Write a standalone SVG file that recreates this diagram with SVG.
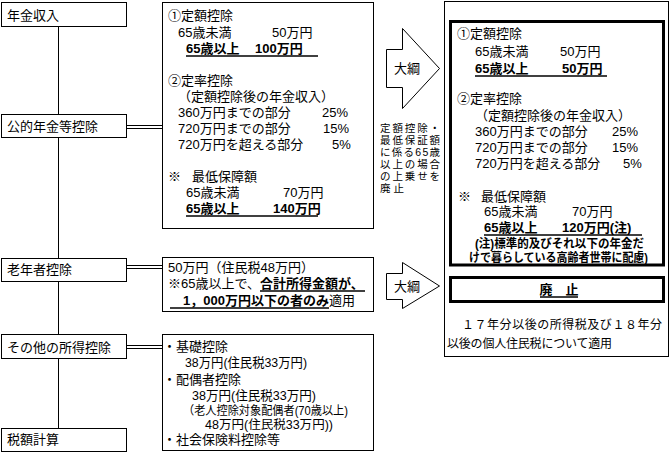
<svg xmlns="http://www.w3.org/2000/svg" width="671" height="452" viewBox="0 0 671 452">
<style>
text{font-family:"Liberation Sans","Noto Sans CJK JP","Noto Sans CJK SC",sans-serif;font-size:13px;fill:#000}
.s12{font-size:12px}
.s11{font-size:10.5px}
.b{font-weight:bold}
.box{fill:#fff;stroke:#000;stroke-width:1}
.thick{fill:#fff;stroke:#000;stroke-width:3}
.ln{stroke:#000;stroke-width:1;fill:none}
.ul{stroke:#000;stroke-width:1.5}
</style>
<rect width="671" height="452" fill="#fff"/>
<g id="connectors">
<line class="ln" x1="58.5" y1="26" x2="58.5" y2="428"/>
<path class="ln" d="M127 125.5H162M127 128.5H162"/>
<path class="ln" d="M127 265.5H162M127 268.5H162"/>
<path class="ln" d="M127 345.5H162M127 348.5H162"/>
</g>
<g id="n-nenkin"><rect class="box" x="1.5" y="2.5" width="125" height="24"/><text x="7" y="20">年金収入</text></g>
<g id="n-koteki"><rect class="box" x="1.5" y="114.5" width="125" height="23"/><text x="7" y="130.5">公的年金等控除</text></g>
<g id="n-ronen"><rect class="box" x="1.5" y="258.5" width="125" height="23"/><text x="7" y="274">老年者控除</text></g>
<g id="n-sonota"><rect class="box" x="1.5" y="334.5" width="125" height="24"/><text x="7" y="351.5">その他の所得控除</text></g>
<g id="n-zeigaku"><rect class="box" x="1.5" y="428.5" width="125" height="23"/><text x="7" y="444">税額計算</text></g>
<g id="n-koteki-detail">
<rect class="box" x="162.5" y="2.5" width="211" height="226"/>
<text x="168" y="20">①定額控除</text>
<text x="178" y="37">65歳未満</text><text x="272" y="37">50万円</text>
<text class="b" x="186" y="53">65歳以上</text><text class="b" x="255" y="53">100万円</text>
<line class="ul" x1="186" y1="56" x2="318" y2="56"/>
<text x="168" y="85">②定率控除</text>
<text x="178" y="101">（定額控除後の年金収入）</text>
<text x="178" y="117">360万円までの部分</text><text x="322" y="117">25%</text>
<text x="178" y="133">720万円までの部分</text><text x="323" y="133">15%</text>
<text x="178" y="149">720万円を超える部分</text><text x="332" y="149">5%</text>
<text x="168" y="181">※</text><text x="192" y="181">最低保障額</text>
<text x="186" y="197">65歳未満</text><text x="283" y="197">70万円</text>
<text class="b" x="186" y="213">65歳以上</text><text class="b" x="273" y="213">140万円</text>
<line class="ul" x1="186" y1="216" x2="318" y2="216"/>
</g>
<g id="n-ronen-detail">
<rect class="box" x="162.5" y="257.5" width="211" height="54"/>
<text x="168" y="272">50万円（住民税48万円）</text>
<text x="168" y="288">※65歳以上で、<tspan class="b">合計所得金額が、</tspan></text>
<line class="ul" x1="260" y1="291" x2="365" y2="291"/>
<text x="183" y="305"><tspan class="b">1，000万円以下の者のみ</tspan>適用</text>
<line class="ul" x1="170" y1="308" x2="329" y2="308"/>
</g>
<g id="n-sonota-detail">
<rect class="box" x="162.5" y="334.5" width="211" height="116"/>
<text x="163" y="351">・基礎控除</text>
<text x="185" y="367" textLength="122" lengthAdjust="spacingAndGlyphs">38万円(住民税33万円)</text>
<text x="163" y="384">・配偶者控除</text>
<text x="192" y="400" textLength="124" lengthAdjust="spacingAndGlyphs">38万円(住民税33万円)</text>
<text class="s12" x="183" y="415" textLength="165" lengthAdjust="spacingAndGlyphs">（老人控除対象配偶者(70歳以上)</text>
<text class="s12" x="205" y="429" textLength="128" lengthAdjust="spacingAndGlyphs">48万円(住民税33万円))</text>
<text x="163" y="444">・社会保険料控除等</text>
</g>
<g id="arrow1">
<polygon class="box" points="386.5,49.5 402.5,49.5 402.5,28.5 439.5,68.5 402.5,108.5 402.5,87.5 386.5,87.5"/>
<text x="407" y="73" text-anchor="middle">大綱</text>
</g>
<g id="note-taiko">
<text class="s11" x="380" y="132" textLength="60">定額控除・</text>
<text class="s11" x="380" y="144" textLength="60">最低保証額</text>
<text class="s11" x="380" y="156" textLength="60">に係る65歳</text>
<text class="s11" x="380" y="168" textLength="60">以上の場合</text>
<text class="s11" x="380" y="180" textLength="60">の上乗せを</text>
<text class="s11" x="380" y="192" textLength="24">廃止</text>
</g>
<g id="arrow2">
<polygon class="box" points="386.5,273.5 402.5,273.5 402.5,262.5 439.5,286 402.5,308.5 402.5,299.5 386.5,299.5"/>
<text x="407" y="291" text-anchor="middle">大綱</text>
</g>
<g id="n-reform">
<rect class="box" x="444.5" y="1.5" width="224" height="355"/>
<rect class="thick" x="450.5" y="21.5" width="213" height="243.5"/>
<text x="457" y="38">①定額控除</text>
<text x="475" y="56">65歳未満</text><text x="560" y="56">50万円</text>
<text class="b" x="475" y="73">65歳以上</text><text class="b" x="562" y="73">50万円</text>
<line class="ul" x1="475" y1="76" x2="607" y2="76"/>
<text x="457" y="103">②定率控除</text>
<text x="475" y="120">（定額控除後の年金収入）</text>
<text x="475" y="136">360万円までの部分</text><text x="612" y="136">25%</text>
<text x="475" y="152">720万円までの部分</text><text x="612" y="152">15%</text>
<text x="475" y="168">720万円を超える部分</text><text x="623" y="168">5%</text>
<text x="458" y="201">※</text><text x="481" y="201">最低保障額</text>
<text x="484" y="216">65歳未満</text><text x="572" y="216">70万円</text>
<text class="b" x="484" y="232">65歳以上</text><text class="b" x="562" y="232">120万円(注)</text>
<line class="ul" x1="484" y1="235" x2="642" y2="235"/>
<text class="b s12" x="475" y="248" textLength="169" lengthAdjust="spacingAndGlyphs">(注)標準的及びそれ以下の年金だ</text>
<text class="b s12" x="469" y="262" textLength="179" lengthAdjust="spacingAndGlyphs">けで暮らしている高齢者世帯に配慮)</text>
<rect class="thick" x="450.5" y="277.5" width="213" height="24"/>
<text class="b" x="559" y="294" text-anchor="middle">廃　止</text>
<line class="ul" x1="540" y1="297" x2="578" y2="297"/>
<text class="s12" x="462" y="329" textLength="200">１７年分以後の所得税及び１８年分</text>
<text class="s12" x="447" y="348" textLength="165">以後の個人住民税について適用</text>
</g>
</svg>
